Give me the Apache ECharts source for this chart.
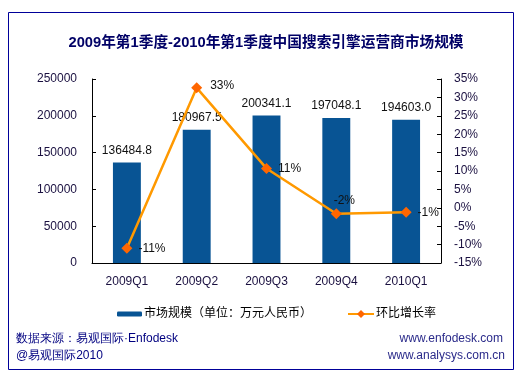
<!DOCTYPE html>
<html><head><meta charset="utf-8">
<script src="https://cdn.jsdelivr.net/npm/echarts@6/dist/echarts.min.js"></script>
<style>html,body{margin:0;padding:0;background:#fff}#c{width:522px;height:379px}</style>
</head><body><div id="c"></div>
<script>
const categories = ['2009Q1','2009Q2','2009Q3','2009Q4','2010Q1'];
const marketSize = [136484.8, 180967.5, 200341.1, 197048.1, 194603.0];
const qoqGrowth = [-11, 32.6, 10.7, -1.6, -1.2];
const leftTicks = {min: 0, max: 250000, interval: 50000};
const rightTicks = {min: -15, max: 35, interval: 5};
const barName = '市场规模（单位：万元人民币）';
const lineName = '环比增长率';
const title = '2009年第1季度-2010年第1季度中国搜索引擎运营商市场规模';

const font = 'Arial, "Liberation Sans", "Noto Sans CJK SC", sans-serif';
const chart = echarts.init(document.getElementById('c'), null, {renderer: 'canvas'});
const lineLabelPos = ['right','right','right','top','right'];
const lineLabelOffset = [[0,0],[2,-2],[0,0],[8,4],[0,0]];
chart.setOption({
  animation: false,
  textStyle: {fontFamily: font},
  title: {text: title, left: 261, textAlign: 'center', top: 31,
    textStyle: {fontSize: 14.7, fontWeight: 'bold', color: '#000066', fontFamily: font}},
  grid: {left: 92, right: 81, top: 79, bottom: 116, containLabel: false},
  legend: [
    {data: [barName], left: 112, top: 303, itemWidth: 25, itemHeight: 5, itemGap: 2,
     textStyle: {fontSize: 12, color: '#000', fontFamily: font, padding: [0,0,0,-3]}},
    {data: [lineName], left: 342, top: 303, itemWidth: 26, itemHeight: 10,
     textStyle: {fontSize: 12, color: '#000', fontFamily: font, padding: [0,0,0,-3]}}
  ],
  xAxis: {type: 'category', data: categories,
    axisLine: {lineStyle: {color: '#000', width: 1}},
    axisTick: {inside: true, length: 4, lineStyle: {color: '#000'}},
    axisLabel: {fontSize: 12, color: '#1a1040', margin: 13, fontFamily: font}},
  yAxis: [
    {type: 'value', min: leftTicks.min, max: leftTicks.max, interval: leftTicks.interval,
     axisLine: {show: true, lineStyle: {color: '#000'}},
     axisTick: {show: true, inside: true, length: 4, lineStyle: {color: '#000'}},
     splitLine: {show: false},
     axisLabel: {fontSize: 12, color: '#1a1040', margin: 15, fontFamily: font,
       formatter: v => String(v)}},
    {type: 'value', min: rightTicks.min, max: rightTicks.max, interval: rightTicks.interval,
     axisLine: {show: true, lineStyle: {color: '#000'}},
     axisTick: {show: true, inside: true, length: 4, lineStyle: {color: '#000'}},
     splitLine: {show: false},
     axisLabel: {fontSize: 12, color: '#1a1040', margin: 13, formatter: '{value}%', fontFamily: font}}
  ],
  series: [
    {name: barName, type: 'bar', data: marketSize, barWidth: '40%', yAxisIndex: 0,
     itemStyle: {color: '#085494'},
     label: {show: true, position: 'top', distance: 6, fontSize: 12, color: '#111',
       fontFamily: font, formatter: p => p.value.toFixed(1)}},
    {name: lineName, type: 'line', data: qoqGrowth.map((v, i) => ({value: v,
        label: {position: lineLabelPos[i], offset: lineLabelOffset[i]}})),
     yAxisIndex: 1, symbol: 'diamond', symbolSize: 11, z: 5,
     lineStyle: {color: '#FF9900', width: 2.5},
     itemStyle: {color: '#FF6600'},
     label: {show: true, fontSize: 12, color: '#111', distance: 6, fontFamily: font,
       formatter: p => Math.round(p.value) + '%'}}
  ],
  graphic: [
    {type: 'rect', shape: {x: 8.5, y: 12.5, width: 505, height: 357}, silent: true,
     style: {fill: null, stroke: '#000099', lineWidth: 1}},
    {type: 'text', left: 16, top: 333, style: {text: '数据来源：易观国际·Enfodesk', fontSize: 12, fill: '#000080', font: '12px ' + font}},
    {type: 'text', left: 16, top: 350, style: {text: '@易观国际2010', fontSize: 12, fill: '#000080', font: '12px ' + font}},
    {type: 'text', right: 19, top: 333, style: {text: 'www.enfodesk.com', fontSize: 12, fill: '#2a2a8a', font: '12px ' + font}},
    {type: 'text', right: 17, top: 350, style: {text: 'www.analysys.com.cn', fontSize: 12, fill: '#2a2a8a', font: '12px ' + font}}
  ]
});
</script></body></html>
